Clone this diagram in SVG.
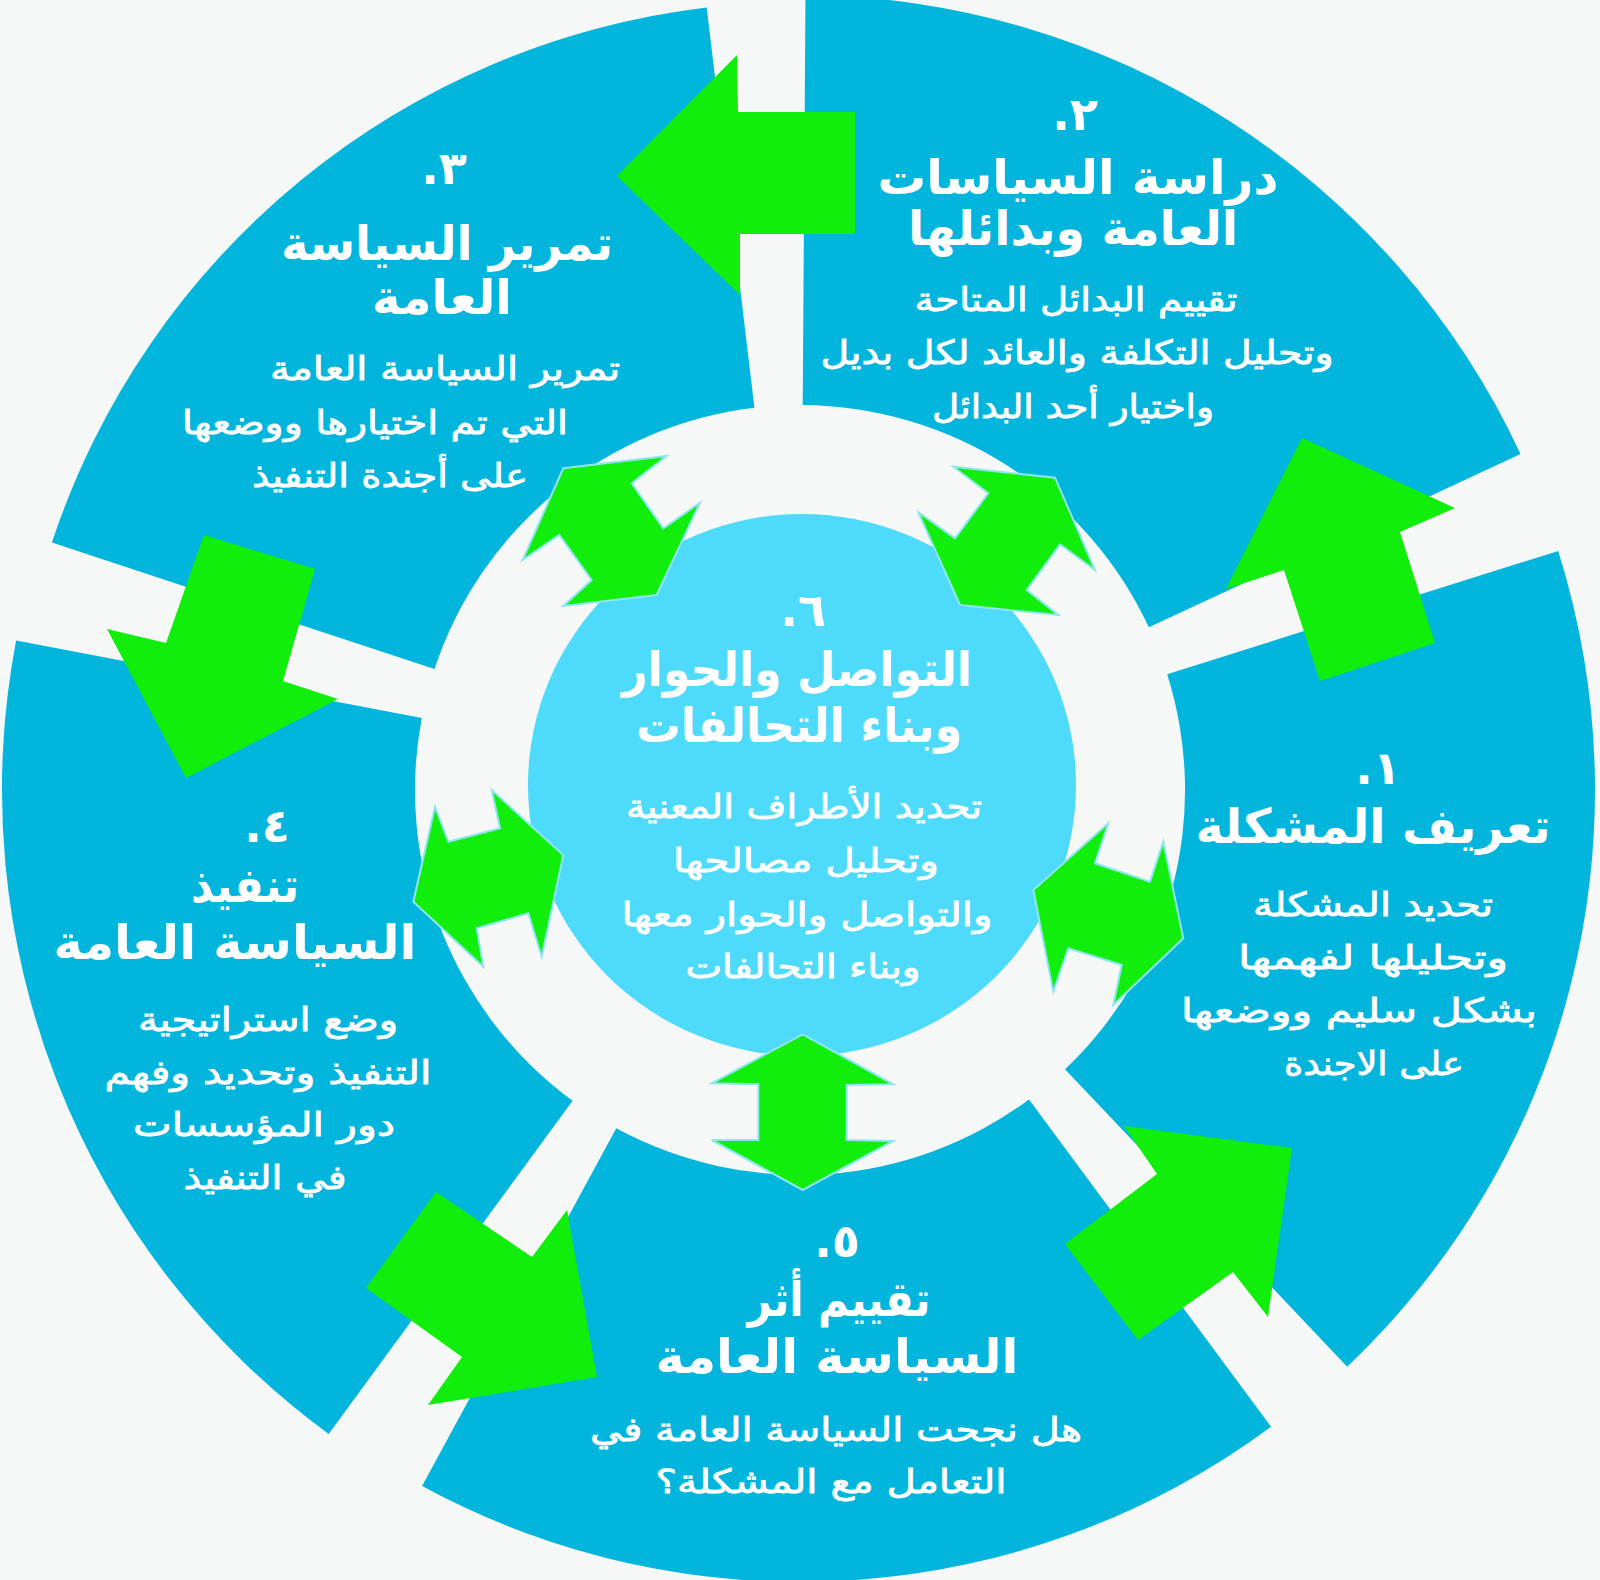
<svg xmlns="http://www.w3.org/2000/svg" width="1600" height="1580" viewBox="0 0 1600 1580">
<style>
.seg{fill:#02b5dd}
.hub{fill:#4ddafb}
.arr{fill:#12ee0b}
.dbl{fill:#12ee0b;stroke:#8fe6f3;stroke-width:2;stroke-linejoin:miter}
text{fill:#ffffff;font-family:"DejaVu Sans",sans-serif;text-anchor:middle}
.t{font-size:48px;font-weight:bold}
.d{font-size:33px;stroke:#ffffff;stroke-width:0.8}
.n{font-size:46px;font-weight:bold;direction:rtl;unicode-bidi:embed}
</style>
<rect width="1600" height="1580" fill="#f6f7f7"/>
<g id="seg1">
<path class="seg" d="M1558.2,550.9 A795,795 0 0 1 1347.2,1366.7 L1065,1069.3 A385,385 0 0 0 1167.2,674.2 Z"/>
<text class="n" x="1378" y="784">١.</text>
<text class="t" x="1373" y="843" textLength="355" lengthAdjust="spacingAndGlyphs">تعريف المشكلة</text>
<text class="d" x="1373" y="916" textLength="240" lengthAdjust="spacingAndGlyphs">تحديد المشكلة</text>
<text class="d" x="1373" y="969" textLength="270" lengthAdjust="spacingAndGlyphs">وتحليلها لفهمها</text>
<text class="d" x="1359" y="1022" textLength="356" lengthAdjust="spacingAndGlyphs">بشكل سليم ووضعها</text>
<text class="d" x="1374" y="1075" textLength="180" lengthAdjust="spacingAndGlyphs">على الاجندة</text>
</g>
<g id="seg2">
<path class="seg" d="M805.5,-5 A795,795 0 0 1 1520.5,454 L1148.9,627.3 A385,385 0 0 0 802.7,405 Z"/>
<text class="n" x="1075" y="130">٢.</text>
<text class="t" x="1078" y="194" textLength="401" lengthAdjust="spacingAndGlyphs">دراسة السياسات</text>
<text class="t" x="1073" y="245" textLength="330" lengthAdjust="spacingAndGlyphs">العامة وبدائلها</text>
<text class="d" x="1076" y="311" textLength="323" lengthAdjust="spacingAndGlyphs">تقييم البدائل المتاحة</text>
<text class="d" x="1077" y="364" textLength="513" lengthAdjust="spacingAndGlyphs">وتحليل التكلفة والعائد لكل بديل</text>
<text class="d" x="1073" y="418" textLength="282" lengthAdjust="spacingAndGlyphs">واختيار أحد البدائل</text>
</g>
<g id="seg3">
<path class="seg" d="M51.9,542.6 A788,788 0 0 1 706.7,7.5 L754.4,407.7 A385,385 0 0 0 434.5,669.1 Z"/>
<text class="n" x="444" y="184">٣.</text>
<text class="t" x="447" y="260" textLength="332" lengthAdjust="spacingAndGlyphs">تمرير السياسة</text>
<text class="t" x="442" y="314" textLength="140" lengthAdjust="spacingAndGlyphs">العامة</text>
<text class="d" x="445" y="380" textLength="350" lengthAdjust="spacingAndGlyphs">تمرير السياسة العامة</text>
<text class="d" x="375" y="434" textLength="386" lengthAdjust="spacingAndGlyphs">التي تم اختيارها ووضعها</text>
<text class="d" x="390" y="487" textLength="276" lengthAdjust="spacingAndGlyphs">على  أجندة التنفيذ</text>
</g>
<g id="seg4">
<path class="seg" d="M328.7,1434 A798,798 0 0 1 16.1,640.5 L421.8,717.9 A385,385 0 0 0 572.6,1100.7 Z"/>
<text class="n" x="267" y="842">٤.</text>
<text class="t" x="245" y="902" textLength="108" lengthAdjust="spacingAndGlyphs">تنفيذ</text>
<text class="t" x="235" y="959" textLength="363" lengthAdjust="spacingAndGlyphs">السياسة العامة</text>
<text class="d" x="268" y="1031" textLength="260" lengthAdjust="spacingAndGlyphs">وضع استراتيجية</text>
<text class="d" x="268" y="1084" textLength="327" lengthAdjust="spacingAndGlyphs">التنفيذ وتحديد وفهم</text>
<text class="d" x="264" y="1136" textLength="262" lengthAdjust="spacingAndGlyphs">دور المؤسسات</text>
<text class="d" x="265" y="1189" textLength="163" lengthAdjust="spacingAndGlyphs">في التنفيذ</text>
</g>
<g id="seg5">
<path class="seg" d="M1271.1,1426.7 A792,792 0 0 1 422.1,1486 L616.3,1128.3 A385,385 0 0 0 1029,1099.5 Z"/>
<text class="n" x="837" y="1257">٥.</text>
<text class="t" x="839" y="1316" textLength="183" lengthAdjust="spacingAndGlyphs">تقييم أثر</text>
<text class="t" x="837" y="1373" textLength="363" lengthAdjust="spacingAndGlyphs">السياسة العامة</text>
<text class="d" x="836" y="1441" textLength="492" lengthAdjust="spacingAndGlyphs">هل نجحت السياسة العامة في</text>
<text class="d" x="831" y="1493" textLength="351" lengthAdjust="spacingAndGlyphs">التعامل مع المشكلة؟</text>
</g>
<g id="hub">
<ellipse class="hub" cx="802" cy="785" rx="274" ry="271"/>
<text class="n" x="803" y="626">٦.</text>
<text class="t" x="797" y="686" textLength="350" lengthAdjust="spacingAndGlyphs">التواصل والحوار</text>
<text class="t" x="799" y="742" textLength="326" lengthAdjust="spacingAndGlyphs">وبناء التحالفات</text>
<text class="d" x="804" y="818" textLength="356" lengthAdjust="spacingAndGlyphs">تحديد الأطراف المعنية</text>
<text class="d" x="806" y="872" textLength="266" lengthAdjust="spacingAndGlyphs">وتحليل مصالحها</text>
<text class="d" x="807" y="926" textLength="371" lengthAdjust="spacingAndGlyphs">والتواصل والحوار معها</text>
<text class="d" x="803" y="978" textLength="235" lengthAdjust="spacingAndGlyphs">وبناء التحالفات</text>
</g>
<g id="connectors">
<polygon class="arr" points="1320,681 1284,570 1226,589 1302,438 1455,508 1400,532 1435,643"/>
<polygon class="arr" points="855,112 738,112 737,55 617,176 740,295 740,234 855,234"/>
<polygon class="arr" points="204,535 315,569 283,681 338,699 186,778 107,629 166,643"/>
<polygon class="arr" points="436,1192 532,1257 567,1210 597,1377 428,1405 462,1357 366,1288"/>
<polygon class="arr" points="1065,1244 1157,1174 1124,1126 1292,1148 1268,1317 1233,1272 1138,1340"/>
<polygon class="dbl" points="563.3,468.3 666.7,456 631.7,483.3 663.3,528.3 700,502.7 656.7,595 563.3,606 591.7,580 559.3,535 522.7,560"/>
<polygon class="dbl" points="1055,477.7 1095,570 1060,544.3 1026.7,590 1058.3,615 960,605 918.3,512.3 955,538.3 988.3,493.3 953.3,466.7"/>
<polygon class="dbl" points="413.3,901.7 435,806.7 448.3,841.7 500,828.3 491.7,790 563.3,855 541.7,956.7 528.3,913.3 476.7,928.3 483.3,966.7"/>
<polygon class="dbl" points="1033.3,890 1108.3,823.3 1095,863.3 1150,881.7 1163.3,841.7 1183.3,938.3 1113.3,1005 1121.7,965 1068.3,948.3 1053.3,991.7"/>
<polygon class="dbl" points="802.7,1034.3 893.3,1084.3 846.7,1085 846.7,1140 893.3,1141 802.7,1190 711.7,1140 758.3,1140 758.3,1084.3 711.7,1083.3"/>
</g>
</svg>
